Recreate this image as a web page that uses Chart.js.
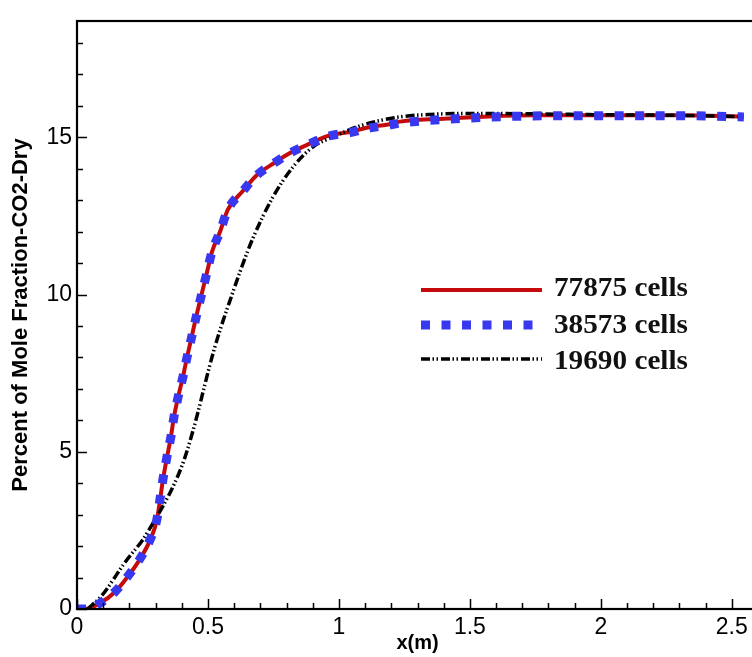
<!DOCTYPE html>
<html>
<head>
<meta charset="utf-8">
<script src="https://cdn.jsdelivr.net/npm/chart.js@4"></script>
<style>
html,body{margin:0;padding:0;background:#fff;overflow:hidden;}
#box{width:770px;height:657px;position:relative;}
</style>
</head>
<body>
<div id="box"><canvas id="grafico"></canvas></div>
<script>
// dados
const xRed=[0,0.03,0.088,0.145,0.19,0.233,0.279,0.305,0.317,0.328,0.343,0.359,0.37,0.385,0.405,0.42,0.439,0.458,0.477,0.496,0.515,0.546,0.576,0.634,0.687,0.756,0.813,0.889,0.966,1.042,1.118,1.183,1.233,1.42,1.74,2.0,2.3,2.546];
const yRed=[0,0,0.19,0.54,0.99,1.49,2.19,2.83,3.47,4.1,4.8,5.5,6.1,6.7,7.4,8.0,8.7,9.4,10.05,10.7,11.35,12.0,12.7,13.3,13.8,14.2,14.5,14.8,15.07,15.17,15.33,15.4,15.5,15.6,15.7,15.7,15.7,15.66];

const xBlue=[0,0.04,0.09,0.145,0.19,0.233,0.279,0.305,0.317,0.328,0.343,0.359,0.37,0.385,0.405,0.42,0.439,0.458,0.477,0.496,0.515,0.546,0.576,0.634,0.687,0.756,0.813,0.889,0.966,1.042,1.118,1.183,1.233,1.42,1.74,2.0,2.3,2.546];
const yBlue=[0,0,0.2,0.55,1.0,1.5,2.2,2.85,3.5,4.12,4.82,5.5,6.1,6.7,7.4,8.0,8.7,9.4,10.05,10.7,11.35,12.0,12.7,13.3,13.8,14.2,14.5,14.8,15.05,15.15,15.3,15.38,15.45,15.58,15.68,15.69,15.69,15.65];

const xBlack=[0.04,0.09,0.19,0.25,0.29,0.33,0.37,0.405,0.43,0.46,0.49,0.52,0.555,0.59,0.63,0.672,0.748,0.824,0.9,0.973,1.09,1.233,1.35,1.5,1.7,2.0,2.3,2.546];
const yBlack=[0,0.38,1.56,2.19,2.73,3.3,3.95,4.65,5.3,6.2,7.2,8.15,9.1,9.95,10.9,11.8,13.1,14.05,14.69,15.0,15.39,15.65,15.73,15.76,15.75,15.72,15.7,15.66];

const legendas=["77875 cells","38573 cells","19690 cells"];
const xTicks=[0,0.5,1,1.5,2,2.5];
const yTicks=[0,5,10,15];

function pontos(xs,ys){
return xs.map((x,i)=>({x:x,y:ys[i]}));
}

const cores={red:"#c40a0a",blue:"#3838f0",black:"#000000"};

// moldura, tracos internos e legenda
const moldura={
id:"moldura",
afterDraw(chart){
const ctx=chart.ctx;
const a=chart.chartArea;
const sx=chart.scales.x, sy=chart.scales.y;
ctx.save();
ctx.strokeStyle="#000";
ctx.lineWidth=1.5;
for(let i=0;i<=26;i++){
const v=i/10;
const px=Math.round(sx.getPixelForValue(v))+0.5;
const len=(i%5===0)?10:6;
ctx.beginPath();ctx.moveTo(px,a.bottom);ctx.lineTo(px,a.bottom-len);ctx.stroke();
}
for(let i=0;i<=18;i++){
const py=Math.round(sy.getPixelForValue(i))+0.5;
const len=(i%5===0)?10:6;
ctx.beginPath();ctx.moveTo(a.left,py);ctx.lineTo(a.left+len,py);ctx.stroke();
}
ctx.lineWidth=2.2;
ctx.strokeRect(a.left,a.top,a.right-a.left,a.bottom-a.top);

// legenda
const ds=chart.data.datasets;
const linhasY=[290,325,359];
const textoY=[289,326,362];
ctx.font="bold 27px 'Liberation Serif'";
ctx.textBaseline="middle";
ctx.fillStyle="#111";
ds.forEach((d,i)=>{
ctx.save();
ctx.strokeStyle=d.borderColor;
ctx.lineWidth=d.borderWidth;
ctx.lineCap="butt";
ctx.setLineDash(d.borderDash||[]);
ctx.beginPath();ctx.moveTo(421,linhasY[i]);ctx.lineTo(542,linhasY[i]);ctx.stroke();
ctx.restore();
// texto um pouco mais largo, como no original
const w=ctx.measureText(d.label).width;
ctx.save();
ctx.translate(554,textoY[i]);
ctx.scale(134/w,1);
ctx.fillText(d.label,0,0);
ctx.restore();
});
ctx.restore();
}
};

new Chart(document.getElementById("grafico"),{
type:"scatter",
data:{datasets:[
{label:legendas[0],data:pontos(xRed,yRed),showLine:true,borderColor:cores.red,borderWidth:4,pointRadius:0,cubicInterpolationMode:"monotone",order:2},
{label:legendas[1],data:pontos(xBlue,yBlue),showLine:true,borderColor:cores.blue,borderWidth:9,borderDash:[9,11.5],pointRadius:0,cubicInterpolationMode:"monotone",order:0},
{label:legendas[2],data:pontos(xBlack,yBlack),showLine:true,borderColor:cores.black,borderWidth:3.5,borderDash:[9,2.5,1.5,2.5,1.5,3],pointRadius:0,cubicInterpolationMode:"monotone",order:1}
]},
options:{
responsive:true,
maintainAspectRatio:false,
animation:false,
layout:{padding:{top:21,right:12,left:0,bottom:0}},
plugins:{legend:{display:false},tooltip:{enabled:false}},
scales:{
x:{
type:"linear",min:0,max:2.6,
afterBuildTicks:s=>{s.ticks=xTicks.map(v=>({value:v}));},
afterFit:s=>{s.height=48;},
grid:{display:false,drawTicks:false},
border:{display:false},
ticks:{color:"#000",padding:5,font:{family:"'Liberation Sans'",size:23},callback:v=>String(+v.toFixed(2)),maxRotation:0,autoSkip:false},
title:{display:true,text:"x(m)",color:"#000",font:{family:"'Liberation Sans'",size:20,weight:"bold"},padding:{top:0,bottom:2}}
},
y:{
type:"linear",min:0,max:18.7,
afterBuildTicks:s=>{s.ticks=yTicks.map(v=>({value:v}));},
afterFit:s=>{s.width=77;},
grid:{display:false,drawTicks:false},
border:{display:false},
ticks:{color:"#000",padding:5,font:{family:"'Liberation Sans'",size:23},callback:v=>String(v),autoSkip:false},
title:{display:true,text:"Percent of Mole Fraction-CO2-Dry",color:"#000",font:{family:"'Liberation Sans'",size:22,weight:"bold"},padding:{top:8,bottom:0}}
}
}
},
plugins:[moldura]
});
</script>
</body>
</html>
